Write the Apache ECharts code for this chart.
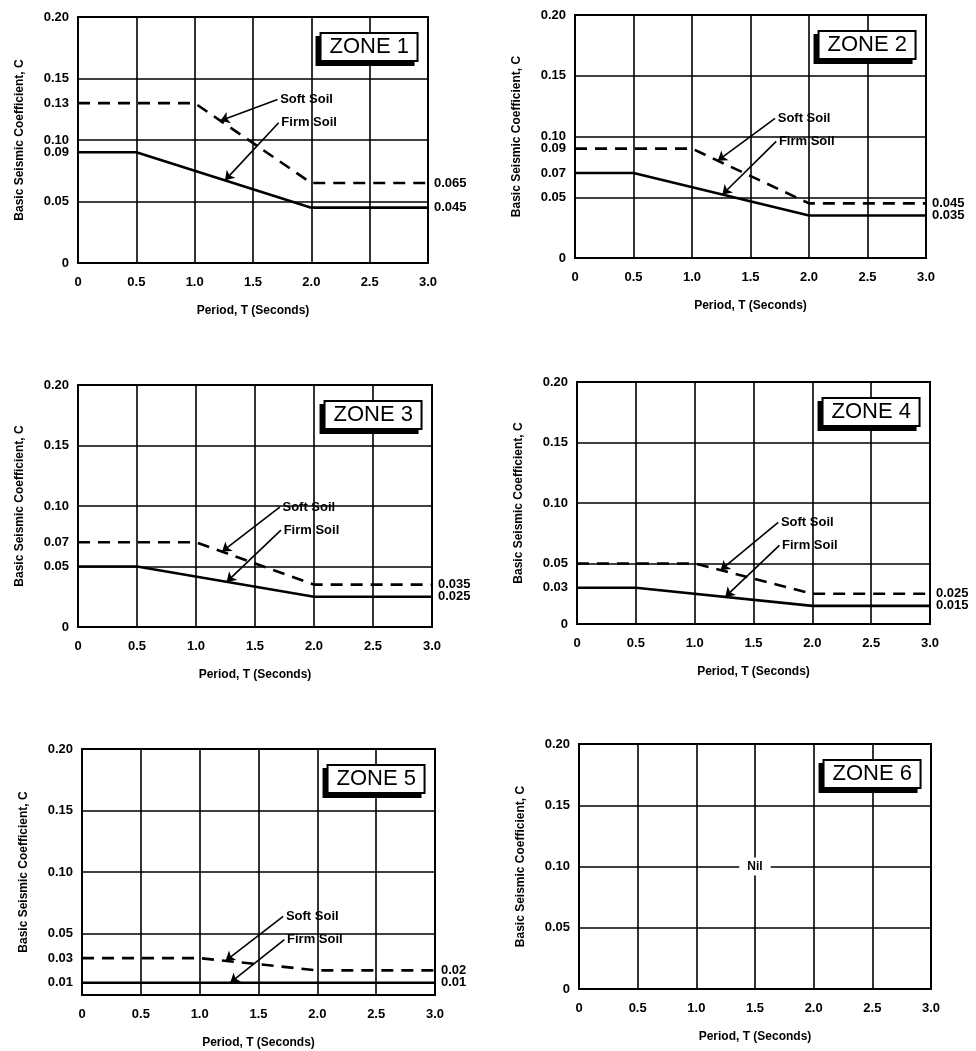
<!DOCTYPE html>
<html>
<head>
<meta charset="utf-8">
<title>Basic Seismic Coefficient, Zones 1-6</title>
<script src="https://cdn.jsdelivr.net/npm/echarts@6/dist/echarts.min.js"></script>
<style>
  html, body { margin: 0; padding: 0; background: #fff; }
  #chart { width: 976px; height: 1051px; }
</style>
</head>
<body>
<div id="chart"></div>
<script>
// break points of the two curves, period T in seconds
var softPeriods = [0, 1.0, 2.0, 3.0]
var firmPeriods = [0, 0.5, 2.0, 3.0]

// basic seismic coefficient C at those break points
var zone1Soft = [0.13, 0.13, 0.065, 0.065]
var zone1Firm = [0.09, 0.09, 0.045, 0.045]
var zone2Soft = [0.09, 0.09, 0.045, 0.045]
var zone2Firm = [0.07, 0.07, 0.035, 0.035]
var zone3Soft = [0.07, 0.07, 0.035, 0.035]
var zone3Firm = [0.05, 0.05, 0.025, 0.025]
var zone4Soft = [0.05, 0.05, 0.025, 0.025]
var zone4Firm = [0.03, 0.03, 0.015, 0.015]
var zone5Soft = [0.03, 0.03, 0.02, 0.02]
var zone5Firm = [0.01, 0.01, 0.01, 0.01]

var zoneNames = ['ZONE 1', 'ZONE 2', 'ZONE 3', 'ZONE 4', 'ZONE 5', 'ZONE 6']
var softCurves = [zone1Soft, zone2Soft, zone3Soft, zone4Soft, zone5Soft, null]
var firmCurves = [zone1Firm, zone2Firm, zone3Firm, zone4Firm, zone5Firm, null]

// labelled values on each C axis
var zone1Ticks = [0, 0.05, 0.09, 0.10, 0.13, 0.15, 0.20]
var zone2Ticks = [0, 0.05, 0.07, 0.09, 0.10, 0.15, 0.20]
var zone3Ticks = [0, 0.05, 0.07, 0.10, 0.15, 0.20]
var zone4Ticks = [0, 0.03, 0.05, 0.10, 0.15, 0.20]
var zone5Ticks = [0, 0.01, 0.03, 0.05, 0.10, 0.15, 0.20]
var zone6Ticks = [0, 0.05, 0.10, 0.15, 0.20]
var cTicks = [zone1Ticks, zone2Ticks, zone3Ticks, zone4Ticks, zone5Ticks, zone6Ticks]

var softName = 'Soft Soil'
var firmName = 'Firm Soil'
var nilText = 'Nil'
var xName = 'Period, T (Seconds)'
var yName = 'Basic Seismic Coefficient, C'

// layout (pixels) of the six plot areas
var plots = [
  {left: 78, top: 17, width: 350, height: 246},
  {left: 575, top: 15, width: 351, height: 243},
  {left: 78, top: 385, width: 354, height: 242},
  {left: 577, top: 382, width: 353, height: 242},
  {left: 82, top: 749, width: 353, height: 246},
  {left: 579, top: 744, width: 352, height: 245}
]
// where the "Soft Soil" note sits in each zone (data units)
var noteY = [0.133, 0.115, 0.099, 0.084, 0.064]

var FONT = 'Liberation Sans'
var chart = echarts.init(document.getElementById('chart'))

function pairs(ts, cs) {
  return ts.map(function (t, i) { return [t, cs[i]] })
}

function valueAt(ts, cs, t) {
  for (var i = 1; i < ts.length; i++) {
    if (t <= ts[i]) {
      var k = (t - ts[i - 1]) / (ts[i] - ts[i - 1])
      return cs[i - 1] + k * (cs[i] - cs[i - 1])
    }
  }
  return cs[cs.length - 1]
}

var grids = [], xAxes = [], yAxes = [], titles = [], series = []

plots.forEach(function (p, i) {
  grids.push({
    left: p.left, top: p.top, width: p.width, height: p.height,
    show: true, borderColor: '#000', borderWidth: 2, backgroundColor: 'transparent'
  })

  xAxes.push({
    type: 'value', gridIndex: i, min: 0, max: 3, interval: 0.5,
    name: xName, nameLocation: 'middle', nameGap: 42,
    nameTextStyle: {color: '#000', fontFamily: FONT, fontWeight: 'bold', fontSize: 12},
    axisLine: {lineStyle: {color: '#000', width: 2}},
    axisTick: {show: false},
    axisLabel: {
      color: '#000', fontFamily: FONT, fontWeight: 'bold', fontSize: 13, margin: 13,
      formatter: function (v) { return v === 0 ? '0' : v.toFixed(1) }
    },
    splitLine: {show: true, lineStyle: {color: '#000', width: 1.6}}
  })

  // grid lines every 0.05
  yAxes.push({
    type: 'value', gridIndex: i, position: 'left', min: 0, max: 0.2, interval: 0.05,
    axisLine: {show: true, lineStyle: {color: '#000', width: 2}},
    axisTick: {show: false},
    axisLabel: {show: false},
    splitLine: {show: true, lineStyle: {color: '#000', width: 1.6}}
  })

  // labels only where the figure prints them
  var ticks = cTicks[i].map(function (v) { return Math.round(v * 1000) })
  yAxes.push({
    type: 'value', gridIndex: i, position: 'left', min: 0, max: 0.2, interval: 0.01,
    name: yName, nameLocation: 'middle', nameGap: 52,
    nameTextStyle: {color: '#000', fontFamily: FONT, fontWeight: 'bold', fontSize: 12},
    axisLine: {show: false},
    axisTick: {show: false},
    splitLine: {show: false},
    axisLabel: {
      color: '#000', fontFamily: FONT, fontWeight: 'bold', fontSize: 13, margin: 9,
      formatter: function (v) {
        if (ticks.indexOf(Math.round(v * 1000)) < 0) return ''
        return v === 0 ? '0' : v.toFixed(2)
      }
    }
  })

  // zone tag: a solid black copy offset down-left acts as the drop shadow
  var boxRight = 976 - (p.left + p.width - 10)
  var boxStyle = {color: '#000', fontFamily: FONT, fontWeight: 'normal', fontSize: 22}
  titles.push({
    text: zoneNames[i], right: boxRight + 4, top: p.top + 20, z: 5,
    padding: [3, 9], backgroundColor: '#000', borderColor: '#000', borderWidth: 2,
    textStyle: boxStyle
  })
  titles.push({
    text: zoneNames[i], right: boxRight, top: p.top + 16, z: 6,
    padding: [3, 9], backgroundColor: '#fff', borderColor: '#000', borderWidth: 2,
    textStyle: boxStyle
  })

  var endLabel = {
    show: true, distance: 6, color: '#000', fontFamily: FONT, fontWeight: 'bold', fontSize: 13,
    formatter: function (prm) { return String(prm.value[1]) }
  }
  var noteLabel = {
    show: true, position: 'right', distance: 1, formatter: '{b}',
    color: '#000', fontFamily: FONT, fontWeight: 'bold', fontSize: 13
  }

  if (softCurves[i]) {
    var soft = softCurves[i], firm = firmCurves[i]
    var ny = noteY[i], fy = ny - 0.019
    series.push({
      type: 'line', name: softName, xAxisIndex: i, yAxisIndex: 2 * i + 1,
      data: pairs(softPeriods, soft), symbol: 'none',
      lineStyle: {color: '#000', width: 2.6, type: [12, 8]},
      endLabel: endLabel,
      markLine: {
        silent: true, symbol: ['none', 'arrow'], symbolSize: 9,
        label: {show: false},
        lineStyle: {color: '#000', width: 1.6, type: 'solid'},
        data: [
          [{coord: [1.71, ny]}, {coord: [1.22, valueAt(softPeriods, soft, 1.22)]}],
          [{coord: [1.72, fy]}, {coord: [1.26, valueAt(firmPeriods, firm, 1.26)]}]
        ]
      }
    })
    series.push({
      type: 'line', name: firmName, xAxisIndex: i, yAxisIndex: 2 * i + 1,
      data: pairs(firmPeriods, firm), symbol: 'none',
      lineStyle: {color: '#000', width: 2.6},
      endLabel: endLabel
    })
    series.push({
      type: 'scatter', xAxisIndex: i, yAxisIndex: 2 * i + 1,
      symbolSize: 1, itemStyle: {color: 'transparent', opacity: 1},
      label: noteLabel,
      data: [{name: softName, value: [1.72, ny]}, {name: firmName, value: [1.73, fy]}]
    })
  } else {
    series.push({
      type: 'scatter', xAxisIndex: i, yAxisIndex: 2 * i + 1,
      symbolSize: 1, itemStyle: {color: 'transparent', opacity: 1},
      label: {
        show: true, position: 'inside', formatter: '{b}',
        backgroundColor: '#fff', padding: [3, 8],
        color: '#000', fontFamily: FONT, fontWeight: 'bold', fontSize: 12
      },
      data: [{name: nilText, value: [1.5, 0.1]}]
    })
  }
})

chart.setOption({
  backgroundColor: '#fff',
  animation: false,
  title: titles,
  grid: grids,
  xAxis: xAxes,
  yAxis: yAxes,
  series: series
})
</script>
</body>
</html>
